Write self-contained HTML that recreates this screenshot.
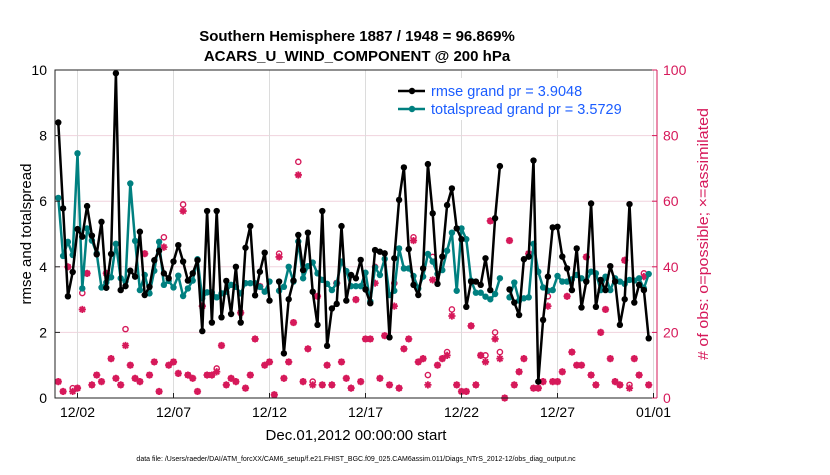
<!DOCTYPE html>
<html><head><meta charset="utf-8"><style>
body{margin:0;background:#fff;}
svg text{font-family:"Liberation Sans",Arial,sans-serif;}
</style></head><body>
<svg id="chart" width="830" height="470" viewBox="0 0 830 470" xmlns="http://www.w3.org/2000/svg">
<rect width="830" height="470" fill="#fff"/>
<g id="grid"></g>
<g id="series"></g>
<g id="axes"></g>
<text x="357" y="41" text-anchor="middle" font-size="15" font-weight="bold">Southern Hemisphere 1887 / 1948 = 96.869%</text>
<text x="357" y="61" text-anchor="middle" font-size="15" font-weight="bold">ACARS_U_WIND_COMPONENT @ 200 hPa</text>
<text transform="translate(31,234) rotate(-90)" text-anchor="middle" font-size="15">rmse and totalspread</text>
<text transform="translate(708,234) rotate(-90)" text-anchor="middle" font-size="15" textLength="252" lengthAdjust="spacingAndGlyphs" fill="#d6195a"># of obs: o=possible; ×=assimilated</text>
<text x="356" y="440" text-anchor="middle" font-size="15">Dec.01,2012 00:00:00 start</text>
<text x="356" y="461" text-anchor="middle" font-size="7">data file: /Users/raeder/DAI/ATM_forcXX/CAM6_setup/f.e21.FHIST_BGC.f09_025.CAM6assim.011/Diags_NTrS_2012-12/obs_diag_output.nc</text>
<g id="legend">
<rect x="392" y="78" width="256" height="42" fill="#fff"/>
<line x1="398" y1="91" x2="425" y2="91" stroke="#000" stroke-width="2.5"/>
<circle cx="412" cy="91" r="3.2" fill="#000"/>
<text x="431" y="96" font-size="14.5" fill="#1a5cff">rmse grand pr = 3.9048</text>
<line x1="398" y1="109" x2="425" y2="109" stroke="#008080" stroke-width="2.5"/>
<circle cx="412" cy="109" r="3.2" fill="#008080"/>
<text x="431" y="114" font-size="14.5" fill="#1a5cff">totalspread grand pr = 3.5729</text>
</g>
</svg>
<script>
const rmse=[8.4,5.78,3.1,3.84,5.15,4.92,5.85,4.95,4.38,5.37,3.36,4.39,9.9,3.29,3.41,3.88,3.7,5.07,3.14,3.39,4.2,4.49,3.8,3.65,4.16,4.66,4.16,3.58,3.8,4.2,2.04,5.7,2.3,5.7,2.46,3.57,2.56,4.0,2.3,4.58,5.24,3.13,3.85,4.43,2.97,null,3.55,1.36,3.01,3.58,4.97,3.9,5.04,3.24,2.23,5.7,1.59,2.73,2.87,5.24,2.97,3.75,3.65,4.21,3.31,2.89,4.51,4.46,4.41,1.85,4.26,6.04,7.03,4.54,3.45,3.14,3.95,7.13,5.63,3.48,4.31,5.88,6.39,5.17,4.84,2.78,3.55,3.55,3.45,4.26,3.29,5.48,7.07,null,3.31,2.91,2.53,4.23,4.31,7.24,0.5,2.38,3.7,5.2,5.22,4.31,3.95,3.29,4.56,2.76,3.55,5.93,2.78,3.6,3.29,4.02,3.55,2.23,3.01,5.91,2.91,3.45,3.29,1.82];
const spread=[6.1,4.33,4.76,4.36,7.46,3.34,5.17,4.8,4.41,3.37,3.52,3.68,4.7,3.65,3.55,6.54,4.79,3.29,3.75,3.19,3.88,4.76,3.45,3.57,3.37,3.73,3.11,3.34,3.58,4.23,3.04,3.22,3.22,3.07,3.19,3.24,3.45,3.39,3.19,3.5,3.5,3.5,3.39,3.24,3.55,null,3.27,3.39,4.0,3.55,4.77,3.65,4.02,4.13,3.8,3.6,3.48,3.29,3.5,4.16,3.87,3.41,3.41,3.41,3.82,2.94,3.98,3.75,4.24,3.14,3.27,4.56,3.95,3.95,3.72,3.34,3.7,4.39,4.16,3.78,3.9,4.49,5.04,3.27,5.17,4.84,3.58,3.21,3.21,3.09,3.01,3.17,3.65,null,3.07,3.52,2.97,3.04,3.07,4.7,3.85,3.37,3.27,3.29,3.72,3.55,3.55,3.62,3.75,3.65,3.55,3.85,3.8,3.29,3.7,3.29,3.65,3.55,3.48,3.6,3.58,3.65,3.34,3.78];
const nAssim=[5,2,40,2,3,27,38,4,7,5,38,12,6,4,16,10,6,5,44,7,11,2,46,10,11,7.5,57,7,6,2,28,7,7,8,16,4,6,5,26,3,7,18,34,10,11,1,43,6,11,23,68,5,15,4,31,4,10,4,35,11,6,3,30,5,18,18,35,6,19,4,28,3,15,18,48,11,12,4,36,10,12,13,25,4,2,2,22,4,13,11,54,18,12,0,48,4,8,12,44,3,3,5,28,5,5,8,31,14,10,10,43,7,4,20,27,12,5,4,42,3,12,7,37,4];
const nPoss=[5,2,40,3,3,32,38,4,7,5,38,12,6,4,21,10,6,5,44,7,11,2,49,10,11,7.5,59,7,6,2,28,7,7,9,16,4,6,5,26,3,7,18,34,10,11,1,44,6,11,23,72,5,15,5,31,4,10,4,35,11,6,3,30,5,18,18,40,6,19,4,35,3,15,18,49,11,12,7,43,10,12,14,27,4,2,2,22,4,13,13,54,20,14,0,48,4,8,12,44,3,3,5,31,5,5,8,31,14,10,10,43,7,4,20,27,12,5,4,42,4,12,7,38,4];
const xTickDays=[1,6,11,16,21,26,31];
const xTickLabels=["12/02","12/07","12/12","12/17","12/22","12/27","01/01"];
const yTicks=[0,2,4,6,8,10];
const y2Ticks=[0,20,40,60,80,100];

const NS="http://www.w3.org/2000/svg";
const L=55,R=657,T=70,B=398;
const xd=d=>58.3+d*19.2;
const xk=k=>xd(k/4);
const y1=v=>B-(v/10)*(B-T);
const y2=n=>B-(n/100)*(B-T);
function mk(tag,attrs,parent){const e=document.createElementNS(NS,tag);for(const a in attrs)e.setAttribute(a,attrs[a]);parent.appendChild(e);return e;}
const grid=document.getElementById('grid'),ser=document.getElementById('series'),ax=document.getElementById('axes');
yTicks.forEach(v=>{if(v>0&&v<10){const g=mk('line',{x1:L,x2:R,y1:y1(v),y2:y1(v),stroke:'#f0d3dd','stroke-width':1},grid);

}});
xTickDays.forEach(d=>{const g=mk('line',{x1:xd(d),x2:xd(d),y1:T,y2:B,stroke:'#dcdcdc','stroke-width':1},grid);

});
nPoss.forEach((n,k)=>{if(n==null)return;const c=mk('circle',{cx:xk(k),cy:y2(n),r:2.6,fill:'none',stroke:'#d6195a','stroke-width':1.4},ser);

});
nAssim.forEach((n,k)=>{if(n==null)return;const x=xk(k),y=y2(n),r=3.6;
const p=mk('path',{d:`M${x-r},${y}L${x+r},${y}M${x},${y-r}L${x},${y+r}M${x-2.6},${y-2.6}L${x+2.6},${y+2.6}M${x-2.6},${y+2.6}L${x+2.6},${y-2.6}`,stroke:'#d6195a','stroke-width':1.8},ser);

});
function drawSeries(arr,color,name){
  let d='';let pen=false;
  arr.forEach((v,k)=>{if(v==null){pen=false;return;}d+=(pen?'L':'M')+xk(k).toFixed(1)+','+y1(v).toFixed(1);pen=true;});
  const p=mk('path',{d:d,fill:'none',stroke:color,'stroke-width':2.5,'stroke-linejoin':'round'},ser);
  
  
  arr.forEach((v,k)=>{if(v==null)return;const c=mk('circle',{cx:xk(k),cy:y1(v),r:3.2,fill:color},ser);
  
  });
}
drawSeries(spread,'#008080','totalspread');
drawSeries(rmse,'#000','rmse');
const a1=mk('path',{d:`M${R},${T}L${L},${T}L${L},${B}L${R},${B}`,fill:'none',stroke:'#222','stroke-width':1},ax);


const a2=mk('line',{x1:R,x2:R,y1:T,y2:B,stroke:'#d6195a','stroke-width':1},ax);


yTicks.forEach(v=>{mk('line',{x1:L,x2:L+5,y1:y1(v),y2:y1(v),stroke:'#222'},ax);
const t=mk('text',{x:L-8,y:y1(v)+5,'text-anchor':'end','font-size':14},ax);t.textContent=v;

});
y2Ticks.forEach(n=>{mk('line',{x1:R-5,x2:R,y1:y2(n),y2:y2(n),stroke:'#d6195a'},ax);
const t=mk('text',{x:R+6,y:y2(n)+5,'font-size':14,fill:'#d6195a'},ax);t.textContent=n;

});
xTickDays.forEach((d,i)=>{mk('line',{x1:xd(d),x2:xd(d),y1:B,y2:B-5,stroke:'#222'},ax);
const t=mk('text',{x:xd(d),y:B+19,'text-anchor':'middle','font-size':14},ax);t.textContent=xTickLabels[i];

});
</script>
</body></html>
